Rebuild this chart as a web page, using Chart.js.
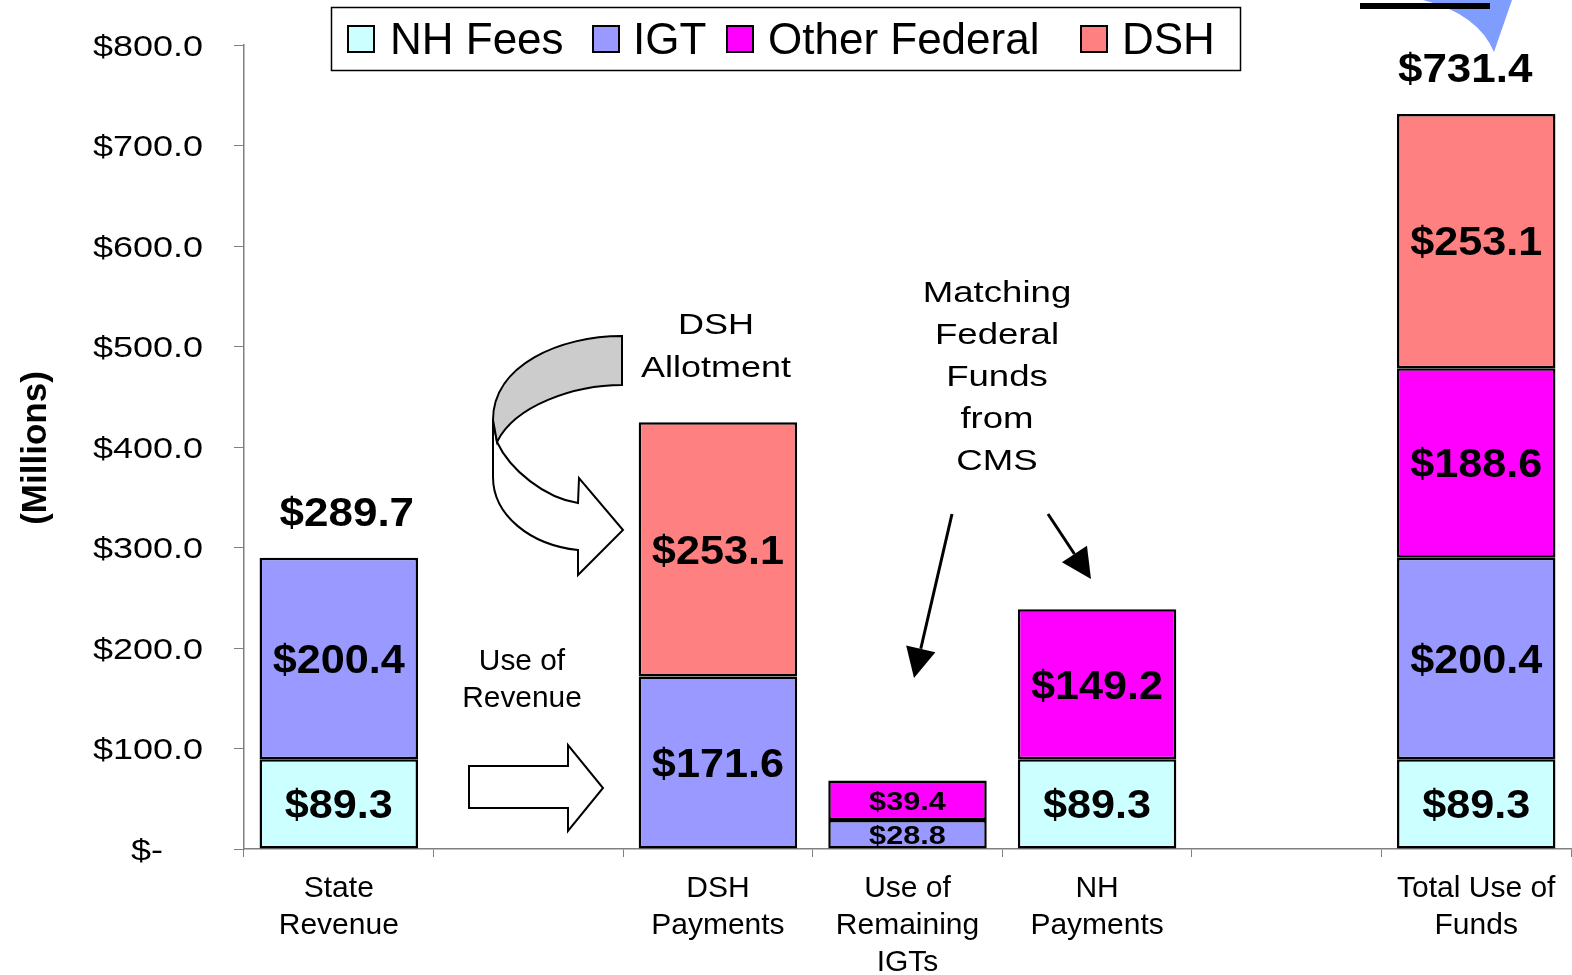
<!DOCTYPE html>
<html>
<head>
<meta charset="utf-8">
<script src="https://cdn.jsdelivr.net/npm/chart.js@4.4.1/dist/chart.umd.min.js"></script>
<style>
  html, body { margin: 0; padding: 0; background: #fff; }
  #wrap { width: 1572px; height: 975px; }
</style>
</head>
<body>
<div id="wrap"><canvas id="chart" width="1572" height="975"></canvas></div>
<script>
// data
const categories = [['State', 'Revenue'], '', ['DSH', 'Payments'], ['Use of', 'Remaining', 'IGTs'], ['NH', 'Payments'], '', ['Total Use of', 'Funds']];
const nhFees       = [89.3, null, null,  null, 89.3,  null, 89.3];
const igt          = [200.4, null, 171.6, 28.8, null, null, 200.4];
const otherFederal = [null, null, null,  39.4, 149.2, null, 188.6];
const dsh          = [null, null, 253.1, null, null,  null, 253.1];
const seriesNames  = ['NH Fees', 'IGT', 'Other Federal', 'DSH'];
const showTotalFor = [0, 6];
const yTickValues  = [0, 100, 200, 300, 400, 500, 600, 700, 800];

const colors = ['#CCFFFF', '#9999FF', '#FF00FF', '#FF8080'];
const FONT = '"Liberation Sans", Arial, sans-serif';
const AXIS = '#808080';

// draw text, vertically centred on the cap height, optionally stretched
function txt(ctx, s, x, y, size, bold, sx, align) {
    ctx.save();
    ctx.font = (bold ? 'bold ' : '') + size + 'px ' + FONT;
    ctx.textAlign = align || 'center';
    ctx.textBaseline = 'alphabetic';
    ctx.fillStyle = '#000';
    ctx.translate(x, y + size * 0.358);
    ctx.scale(sx || 1, 1);
    ctx.fillText(s, 0, 0);
    ctx.restore();
}

const moneyLabels = {
    id: 'moneyLabels',
    afterDatasetsDraw(chart) {
        const ctx = chart.ctx;
        chart.data.datasets.forEach((ds, di) => {
            const meta = chart.getDatasetMeta(di);
            meta.data.forEach((bar, i) => {
                const v = ds.data[i];
                if (v == null) return;
                const h = Math.abs(bar.base - bar.y);
                const mid = (bar.y + bar.base) / 2;
                if (h < 45) txt(ctx, '$' + v.toFixed(1), bar.x, mid, 26, true, 1.18);
                else txt(ctx, '$' + v.toFixed(1), bar.x, mid, 40, true, 1.08);
            });
        });
        // totals above selected bars (slightly off-centre, as in the original)
        const ys = chart.scales.y, xs = chart.scales.x;
        const dx = { 0: 8, 6: -11 };
        showTotalFor.forEach(i => {
            let sum = 0;
            chart.data.datasets.forEach(ds => { sum += ds.data[i] || 0; });
            txt(ctx, '$' + sum.toFixed(1), xs.getPixelForValue(i) + (dx[i] || 0), ys.getPixelForValue(sum) - 46, 40, true, 1.1);
        });
    }
};

const decorations = {
    id: 'decorations',
    afterDraw(chart) {
        const ctx = chart.ctx;
        const ys = chart.scales.y, xs = chart.scales.x;

        // y tick labels
        yTickValues.forEach(v => {
            const y = ys.getPixelForValue(v);
            if (v === 0) txt(ctx, '$-', 163, y, 30, false, 1.2, 'right');
            else txt(ctx, '$' + v.toFixed(1), 203, y, 30, false, 1.2, 'right');
        });

        // y title
        ctx.save();
        ctx.translate(33, 448);
        ctx.rotate(-Math.PI / 2);
        txt(ctx, '(Millions)', 0, 0, 35, true, 1);
        ctx.restore();

        // category labels
        categories.forEach((c, i) => {
            const lines = Array.isArray(c) ? c : [c];
            const x = xs.getPixelForValue(i);
            lines.forEach((l, k) => txt(ctx, l, x, 886 + k * 37, 30, false, 1));
        });

        // legend
        ctx.save();
        ctx.fillStyle = '#fff';
        ctx.fillRect(331, 7, 909, 63);
        ctx.strokeStyle = '#000';
        ctx.lineWidth = 1.5;
        ctx.strokeRect(331.5, 7.5, 909, 63);
        const boxX = [348, 593, 727, 1081];
        const textX = [390, 633, 768, 1122];
        seriesNames.forEach((n, i) => {
            ctx.fillStyle = colors[i];
            ctx.fillRect(boxX[i], 26, 26, 26);
            ctx.lineWidth = 2;
            ctx.strokeRect(boxX[i], 26, 26, 26);
            txt(ctx, n, textX[i], 38, 44, false, 1, 'left');
        });
        ctx.restore();

        // annotation texts
        txt(ctx, 'Use of', 522, 660, 29, false, 1.03);
        txt(ctx, 'Revenue', 522, 697, 29, false, 1.03);
        txt(ctx, 'DSH', 716, 323, 30, false, 1.2);
        txt(ctx, 'Allotment', 716, 366, 30, false, 1.2);
        ['Matching', 'Federal', 'Funds', 'from', 'CMS'].forEach((l, k) =>
            txt(ctx, l, 997, 291 + k * 42, 30, false, 1.22));

        ctx.save();
        ctx.strokeStyle = '#000';
        ctx.lineJoin = 'miter';

        // straight block arrow
        ctx.lineWidth = 2;
        ctx.fillStyle = '#fff';
        ctx.beginPath();
        ctx.moveTo(469, 766); ctx.lineTo(568, 766); ctx.lineTo(568, 745);
        ctx.lineTo(603, 788); ctx.lineTo(568, 831); ctx.lineTo(568, 808);
        ctx.lineTo(469, 808); ctx.closePath();
        ctx.fill(); ctx.stroke();

        // curved arrow - white lower part
        ctx.beginPath();
        ctx.moveTo(497, 442);
        ctx.bezierCurveTo(510, 470, 545, 498, 578, 503);
        ctx.lineTo(579, 478); ctx.lineTo(623, 530); ctx.lineTo(578, 575); ctx.lineTo(578, 550);
        ctx.bezierCurveTo(530, 545, 493, 515, 493, 477);
        ctx.lineTo(493, 420);
        ctx.closePath();
        ctx.fillStyle = '#fff';
        ctx.fill(); ctx.stroke();
        // curved arrow - grey band
        ctx.beginPath();
        ctx.moveTo(622, 336);
        ctx.bezierCurveTo(560, 336, 493, 365, 493, 420);
        ctx.lineTo(497, 442);
        ctx.bezierCurveTo(515, 405, 575, 385, 622, 385);
        ctx.closePath();
        ctx.fillStyle = '#CCCCCC';
        ctx.fill(); ctx.stroke();

        // thin arrows with filled heads
        function lineArrow(x1, y1, x2, y2) {
            const a = Math.atan2(y2 - y1, x2 - x1), len = 30, w = 15;
            const bx = x2 - len * Math.cos(a), by = y2 - len * Math.sin(a);
            ctx.lineWidth = 3;
            ctx.beginPath(); ctx.moveTo(x1, y1); ctx.lineTo(bx, by); ctx.stroke();
            ctx.beginPath();
            ctx.moveTo(x2, y2);
            ctx.lineTo(bx + w * Math.sin(a), by - w * Math.cos(a));
            ctx.lineTo(bx - w * Math.sin(a), by + w * Math.cos(a));
            ctx.closePath();
            ctx.fillStyle = '#000';
            ctx.fill();
        }
        lineArrow(952, 514, 914, 678);
        lineArrow(1048, 514, 1091, 579);

        // partial shapes at the top right
        ctx.beginPath();
        ctx.moveTo(1423, 0);
        ctx.quadraticCurveTo(1478, 14, 1494, 52);
        ctx.lineTo(1512, 0);
        ctx.closePath();
        ctx.fillStyle = '#7F9CFF';
        ctx.fill();
        ctx.fillStyle = '#000';
        ctx.fillRect(1360, 3, 130, 6);
        ctx.restore();
    }
};

const datasets = [nhFees, igt, otherFederal, dsh].map((d, i) => ({
    label: seriesNames[i],
    data: d,
    backgroundColor: colors[i],
    borderColor: '#000',
    borderWidth: 2.5,
    borderSkipped: false,
    barPercentage: 0.836,
    categoryPercentage: 1.0
}));

new Chart(document.getElementById('chart'), {
    type: 'bar',
    data: { labels: categories, datasets: datasets },
    options: {
        responsive: false,
        animation: false,
        devicePixelRatio: 1,
        layout: { padding: { top: 45, right: 1, left: 0, bottom: 0 } },
        plugins: { legend: { display: false }, tooltip: { enabled: false } },
        scales: {
            x: {
                stacked: true,
                afterFit: s => { s.height = 126; },
                grid: { drawOnChartArea: false, drawTicks: true, tickLength: 8, color: AXIS, offset: true },
                border: { color: AXIS, width: 1.5 },
                ticks: { display: false, autoSkip: false }
            },
            y: {
                stacked: true,
                min: 0,
                max: 800,
                afterFit: s => { s.width = 244; },
                afterBuildTicks: s => { s.ticks = yTickValues.map(v => ({ value: v })); },
                grid: { drawOnChartArea: false, drawTicks: true, tickLength: 10, color: AXIS },
                border: { color: AXIS, width: 1.5 },
                ticks: { display: false }
            }
        }
    },
    plugins: [moneyLabels, decorations]
});
</script>
</body>
</html>
